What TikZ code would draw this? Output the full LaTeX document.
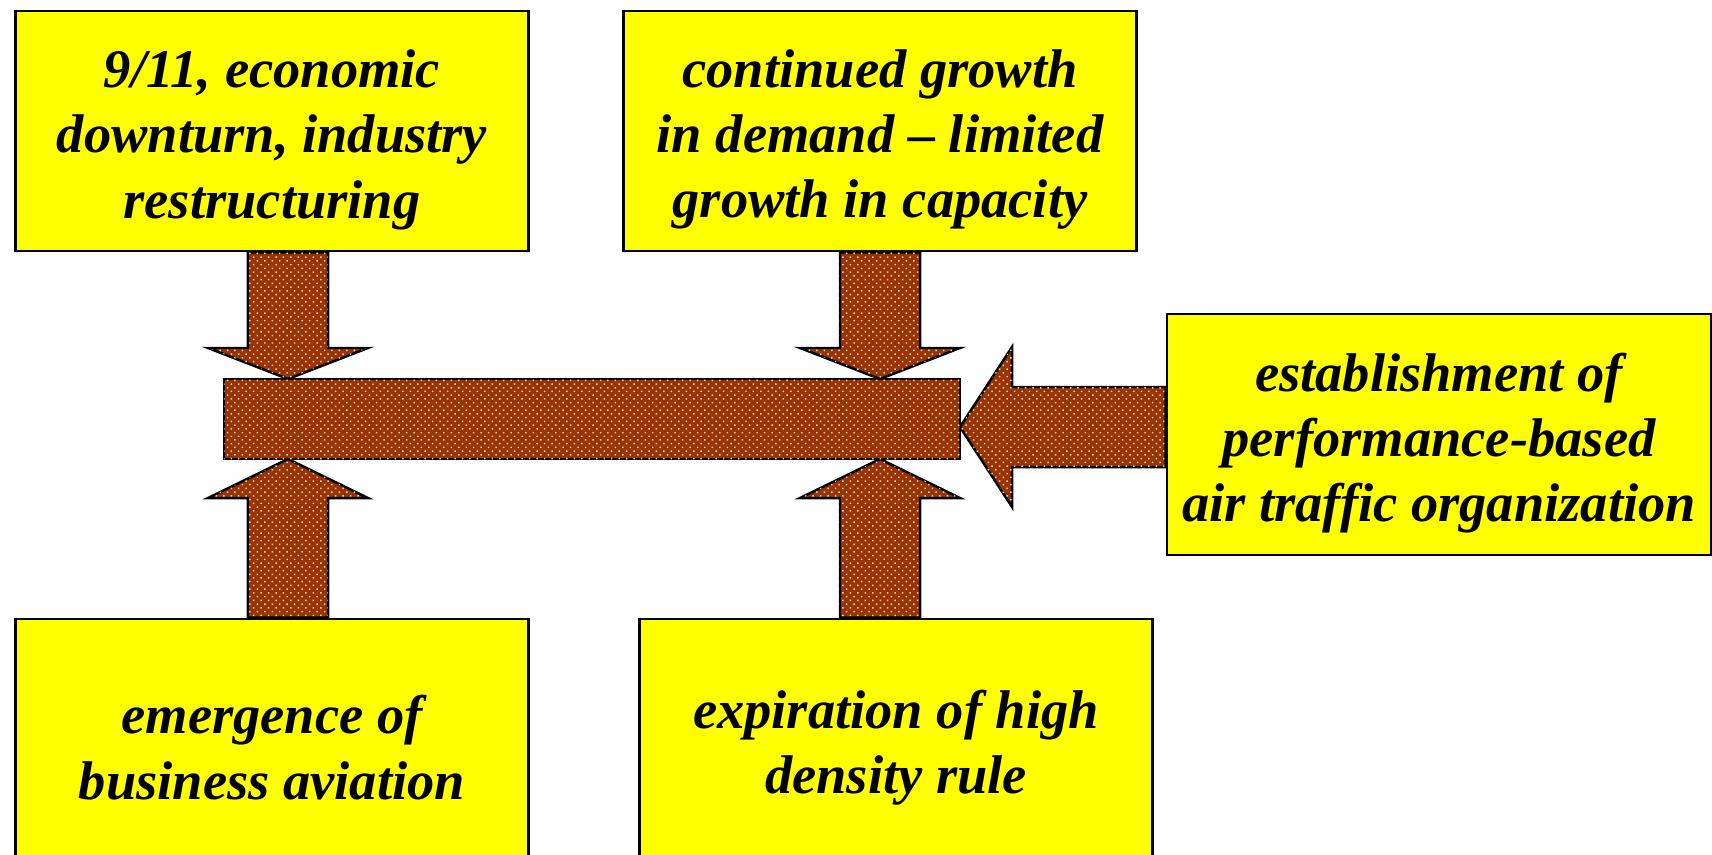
\documentclass[tikz,border=0pt]{standalone}
\usepackage{fontspec}
\setmainfont{Liberation Serif}
\usepackage{tikz}
\usetikzlibrary{calc, positioning, backgrounds, patterns.meta}

\definecolor{boxyellow}{RGB}{255,255,0}
\definecolor{rustbrown}{RGB}{153,51,0}

% pushes the text a little down in the box
\newcommand{\toppad}{\rule{0pt}{15.8pt}}

% block arrow: #1 = tail, #2 = tip, #3 = head length
\newcommand{\blockarrow}[3]{%
  \draw[blockbody] (#2)
    -- ($(#2)!#3!(#1)!8mm!90:(#1)$)
    -- ($(#2)!#3!(#1)!4mm!90:(#1)$)
    -- ($(#1)!4mm!-90:(#2)$)
    -- ($(#1)!4mm!90:(#2)$)
    -- ($(#2)!#3!(#1)!4mm!-90:(#1)$)
    -- ($(#2)!#3!(#1)!8mm!-90:(#1)$)
    -- cycle;}

\begin{document}
\begin{tikzpicture}[
    x=0.01cm, y=-0.01cm,
    font=\fontsize{15.5}{18.5}\selectfont\bfseries\itshape,
    yellowbox/.style={rectangle, draw=black, fill=boxyellow, line width=0.7pt, align=center, inner sep=0pt, minimum width=5.13cm, minimum height=2.4cm},
    blockbody/.style={draw=black, line width=0.7pt, fill=rustbrown, postaction={pattern={Dots[distance=1.5pt, radius=0.3pt, angle=45]}, pattern color=white!80!rustbrown}},
    hubbar/.style={rectangle, blockbody, inner sep=0pt, minimum width=7.36cm, minimum height=0.8cm}
]
    \useasboundingbox (0,0) rectangle (1712,854);
    \clip (0,0) rectangle (1712,854);

    % Boxes
    \node [yellowbox] (econ) at (272,131) {\toppad 9/11, economic\\downturn, industry\\restructuring};
    \node [yellowbox] (demand) at (880,131) {\toppad continued growth\\in demand -- limited\\growth in capacity};
    \node [yellowbox, minimum width=5.44cm, minimum height=2.41cm] (pbo) at (1439,434.5) {\toppad establishment of\\performance-based\\air traffic organization};
    \node [yellowbox] (bizav) at (272,739) {\toppad emergence of\\business aviation};
    \node [yellowbox] (hdr) at (896,739) {\toppad expiration of high\\density rule};

    % Hub
    \node [hubbar] (hub) at (592,419) {};

    \coordinate (tipEcon) at (288,379);
    \coordinate (tipDemand) at (880,379);
    \coordinate (tipBizav) at (288,459);
    \coordinate (tipHdr) at (880,459);
    \coordinate (tipPbo) at (960,427);

    \begin{scope}[on background layer]
        \blockarrow{econ.south -| tipEcon}{tipEcon}{3.1mm}
        \blockarrow{demand.south -| tipDemand}{tipDemand}{3.1mm}
        \blockarrow{bizav.north -| tipBizav}{tipBizav}{3.9mm}
        \blockarrow{hdr.north -| tipHdr}{tipHdr}{3.9mm}
        \blockarrow{pbo.west |- tipPbo}{tipPbo}{5.2mm}
    \end{scope}

\end{tikzpicture}
\end{document}
